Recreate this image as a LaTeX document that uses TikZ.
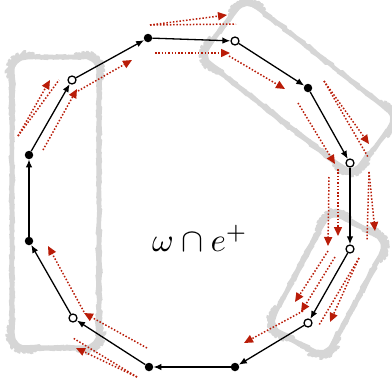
\documentclass[tikz,border=0pt]{standalone}
\usepackage{xcolor}
\usepackage{tikz}
\usetikzlibrary{arrows.meta,positioning,decorations.pathmorphing}
\definecolor{walkred}{RGB}{185, 28, 8}
\definecolor{boxgray}{RGB}{214, 214, 214}

\begin{document}
\begin{tikzpicture}[
    x=1pt, y=-1pt,
    dotv/.style={circle, fill=black, inner sep=0pt, minimum size=8.5pt},
    ringv/.style={circle, draw=black, fill=white, line width=1.3pt, inner sep=0pt, minimum size=8pt},
    walk/.style={draw=black, line width=1.3pt, -{Latex[length=8pt,width=6.5pt]}},
    trail/.style={draw=walkred, line width=1.5pt, dash pattern=on 1.5pt off 1.8pt, -{Triangle[length=9pt,width=8pt]}},
    trailplain/.style={draw=walkred, line width=1.5pt, dash pattern=on 1.5pt off 1.8pt},
    groupbox/.style={draw=boxgray, line width=3.6pt, line join=round, rounded corners=14pt, inner sep=0pt,
        decorate, decoration={random steps, segment length=3pt, amplitude=0.25pt}}
]
    \pgfmathsetseed{7}
    \useasboundingbox (0,0) rectangle (392,389);

    \node[groupbox, minimum width=87pt, minimum height=291pt] (leftgroup) at (55.5,202.5) {};
    \node[groupbox, minimum width=194pt, minimum height=74pt, rotate=-38] (topgroup) at (299,87) {};
    \node[groupbox, minimum width=132pt, minimum height=66pt, rotate=62] (rightgroup) at (328,284) {};

    \node[dotv] (v1) at (148,38) {};
    \node[ringv] (v2) at (235,41) {};
    \node[dotv] (v3) at (308,88) {};
    \node[ringv] (v4) at (350,163) {};
    \node[ringv] (v5) at (350,249) {};
    \node[ringv] (v6) at (308,323) {};
    \node[dotv] (v7) at (235,367) {};
    \node[dotv] (v8) at (149,367) {};
    \node[ringv] (v9) at (73,318) {};
    \node[dotv] (v10) at (29,241) {};
    \node[dotv] (v11) at (29,155) {};
    \node[ringv] (v12) at (72,80) {};

    \node[scale=3.3] (meet) at (200,238) {$\omega\cap e^+$};

    \draw[walk] (v1) -- (v2);
    \draw[walk] (v2) -- (v3);
    \draw[walk] (v3) -- (v4);
    \draw[walk] (v4) -- (v5);
    \draw[walk] (v5) -- (v6);
    \draw[walk] (v6) -- (v7);
    \draw[walk] (v7) -- (v8);
    \draw[walk] (v8) -- (v9);
    \draw[walk] (v9) -- (v10);
    \draw[walk] (v10) -- (v11);
    \draw[walk] (v11) -- (v12);
    \draw[walk] (v12) -- (v1);

    % outer traces: arrow stroke and plain stroke
    \coordinate (o1s) at (150,25); \coordinate (o1a) at (227,15); \coordinate (o1p) at (236,24);
    \coordinate (o3s) at (324,81); \coordinate (o3a) at (369,144); \coordinate (o3p) at (368,157);
    \coordinate (o4s) at (369,172); \coordinate (o4a) at (375,231); \coordinate (o4p) at (367,240);
    \coordinate (o5s) at (359,258); \coordinate (o5a) at (330,322); \coordinate (o5p) at (319,325);
    \coordinate (o8s) at (137,377); \coordinate (o8a) at (76,348); \coordinate (o8p) at (73,338);
    \coordinate (o11s) at (18,136); \coordinate (o11a) at (50,80); \coordinate (o11p) at (59,80);
    \draw[trail] (o1s) -- (o1a);   \draw[trailplain] (o1s) -- (o1p);
    \draw[trail] (o3s) -- (o3a);   \draw[trailplain] (o3s) -- (o3p);
    \draw[trail] (o4s) -- (o4a);   \draw[trailplain] (o4s) -- (o4p);
    \draw[trail] (o5s) -- (o5a);   \draw[trailplain] (o5s) -- (o5p);
    \draw[trail] (o8s) -- (o8a);   \draw[trailplain] (o8s) -- (o8p);
    \draw[trail] (o11s) -- (o11a); \draw[trailplain] (o11s) -- (o11p);

    % inner traces
    \coordinate (i1s) at (155,53);  \coordinate (i1e) at (230,53);
    \coordinate (i2s) at (229,56);  \coordinate (i2e) at (285,89);
    \coordinate (i3s) at (298,103); \coordinate (i3e) at (335,164);
    \coordinate (i4as) at (338,169); \coordinate (i4ae) at (338,236);
    \coordinate (i4bs) at (329,177); \coordinate (i4be) at (328,246);
    \coordinate (i5as) at (328,251); \coordinate (i5ae) at (295,302);
    \coordinate (i5bs) at (335,257); \coordinate (i5be) at (301,312);
    \coordinate (i6s) at (303,311); \coordinate (i6e) at (244,343);
    \coordinate (i8s) at (147,348); \coordinate (i8e) at (84,313);
    \coordinate (i9s) at (84,312);  \coordinate (i9e) at (48,246);
    \coordinate (i11s) at (43,150); \coordinate (i11e) at (77,89);
    \coordinate (i12s) at (78,91);  \coordinate (i12e) at (132,60);
    \draw[trail] (i1s) -- (i1e);
    \draw[trail] (i2s) -- (i2e);
    \draw[trail] (i3s) -- (i3e);
    \draw[trail] (i4as) -- (i4ae);
    \draw[trail] (i4bs) -- (i4be);
    \draw[trail] (i5as) -- (i5ae);
    \draw[trail] (i5bs) -- (i5be);
    \draw[trail] (i6s) -- (i6e);
    \draw[trail] (i8s) -- (i8e);
    \draw[trail] (i9s) -- (i9e);
    \draw[trail] (i11s) -- (i11e);
    \draw[trail] (i12s) -- (i12e);
\end{tikzpicture}
\end{document}
